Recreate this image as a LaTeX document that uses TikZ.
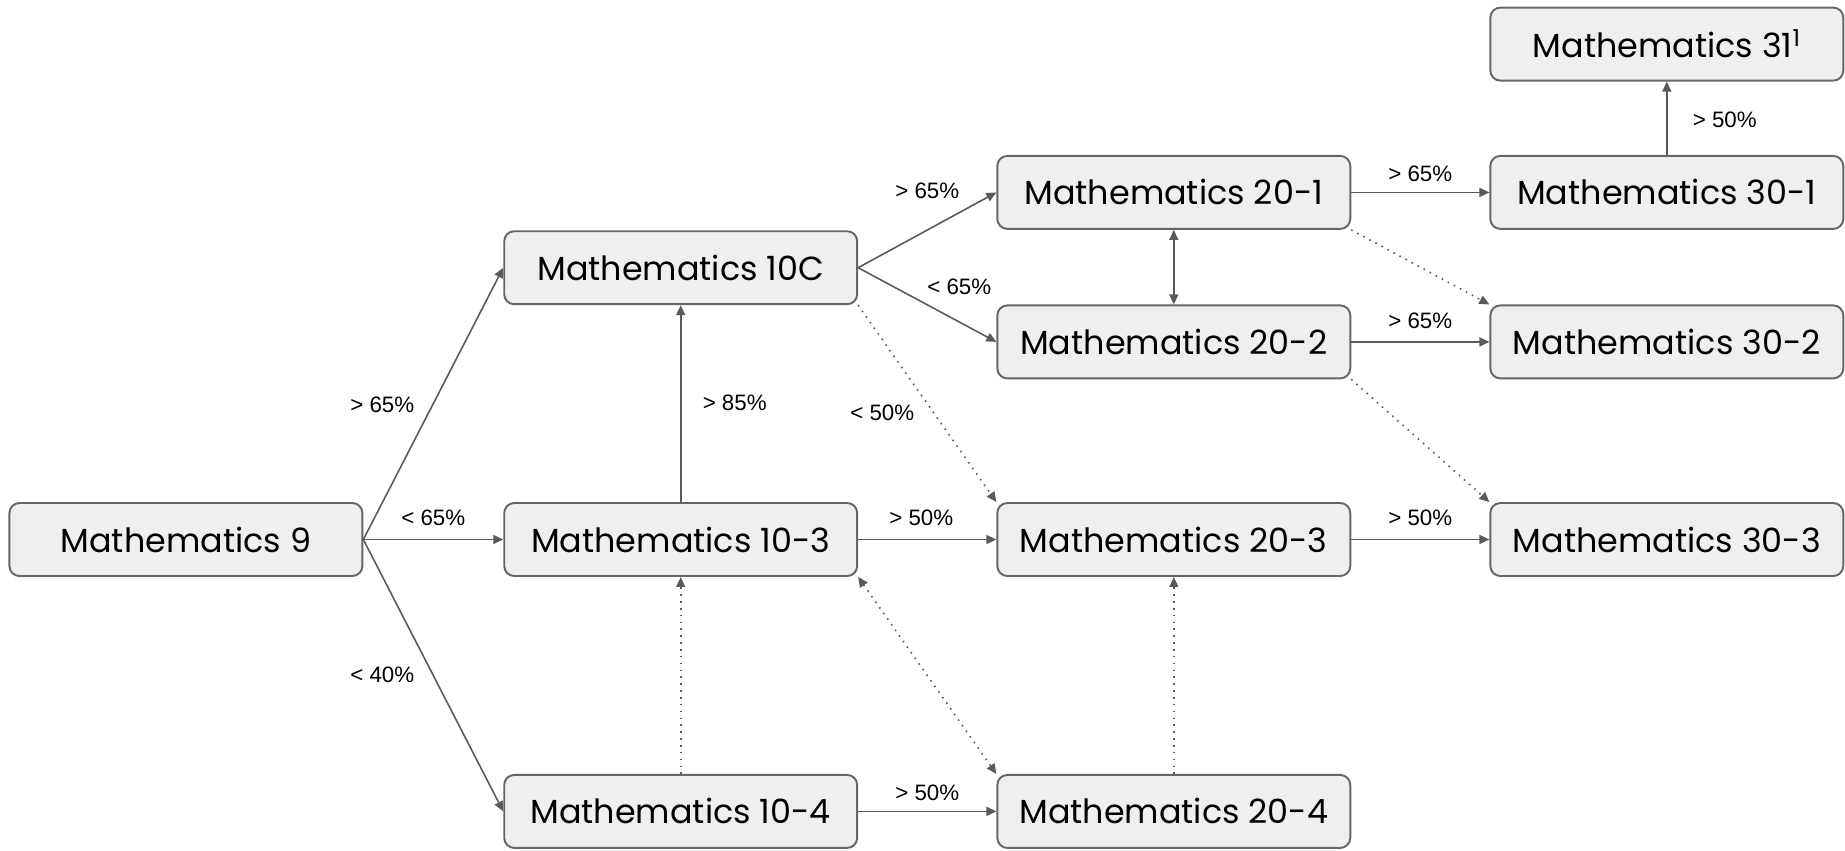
\documentclass[tikz,border=0pt]{standalone}
\usepackage{fontspec}
\setmainfont{Poppins}
\newfontfamily\lblfont{Liberation Sans}
\usetikzlibrary{arrows.meta, positioning}
\definecolor{boxfill}{HTML}{EFEFEF}
\definecolor{boxline}{HTML}{666666}
\definecolor{arrowgray}{HTML}{5A5A5A}

\begin{document}
\begin{tikzpicture}[x=0.02cm, y=-0.02cm,
  course/.style={draw=boxline, fill=boxfill, rounded corners=0.2cm, line width=1.1pt,
    minimum width=7.06cm, minimum height=1.46cm, inner sep=0pt,
    font=\fontsize{19}{22}\selectfont},
  arr/.style={draw=arrowgray, line width=0.9pt, -{Triangle[length=0.2cm, width=0.18cm]}},
  dotarr/.style={arr, dash pattern=on 0.9pt off 3pt},
  lbl/.style={font=\lblfont\fontsize{12.7}{14}\selectfont, inner sep=0pt}]
\useasboundingbox (0,0) rectangle (1845,850);

% Courses
\node[course] (m9)   at (185.9,539.5) {Mathematics 9};
\node[course] (m10c) at (680.7,267.7) {Mathematics 10C};
\node[course] (m103) at (680.7,539.5) {Mathematics 10-3};
\node[course] (m104) at (680.7,811.4) {Mathematics 10-4};
\node[course] (m201) at (1173.8,192.4) {Mathematics 20-1};
\node[course] (m202) at (1173.8,341.9) {Mathematics 20-2};
\node[course] (m203) at (1173.8,539.5) {Mathematics 20-3};
\node[course] (m204) at (1173.8,811.4) {Mathematics 20-4};
\node[course] (m301) at (1666.8,192.4) {Mathematics 30-1};
\node[course] (m302) at (1666.8,341.9) {Mathematics 30-2};
\node[course] (m303) at (1666.8,539.5) {Mathematics 30-3};
\node[course] (m31)  at (1666.8,44.1) {Mathematics 31\textsuperscript{1}};

% From Mathematics 9
\draw[arr] (m9.east) -- node[lbl, shift={(-51,1)}] {> 65\%} (m10c.west);
\draw[arr] (m9.east) -- node[lbl, shift={(0,-21.5)}] {< 65\%} (m103.west);
\draw[arr] (m9.east) -- node[lbl, shift={(-51,-1)}] {< 40\%} (m104.west);

% Grade 10
\draw[arr] (m103.north) -- node[lbl, shift={(54,-1)}] {> 85\%} (m10c.south);
\draw[dotarr] (m104.north) -- (m103.south);
\draw[arr] (m10c.east) -- node[lbl, shift={(0,-39)}] {> 65\%} (m201.west);
\draw[arr] (m10c.east) -- node[lbl, shift={(32,-18)}] {< 65\%} (m202.west);
\draw[dotarr] (m10c.south east) -- node[lbl, shift={(-45,9)}] {< 50\%} (m203.north west);
\draw[arr] (m103.east) -- node[lbl, shift={(-6,-21.5)}] {> 50\%} (m203.west);
\draw[dotarr, {Triangle[length=0.2cm, width=0.18cm]}-{Triangle[length=0.2cm, width=0.18cm]}] (m103.south east) -- (m204.north west);
\draw[arr] (m104.east) -- node[lbl, shift={(0,-19)}] {> 50\%} (m204.west);

% Grade 20
\draw[dotarr] (m204.north) -- (m203.south);
\draw[arr, {Triangle[length=0.2cm, width=0.18cm]}-{Triangle[length=0.2cm, width=0.18cm]}] (m201.south) -- (m202.north);
\draw[arr] (m201.east) -- node[lbl, shift={(0,-19)}] {> 65\%} (m301.west);
\draw[dotarr] (m201.south east) -- (m302.north west);
\draw[arr] (m202.east) -- node[lbl, shift={(0,-21)}] {> 65\%} (m302.west);
\draw[dotarr] (m202.south east) -- (m303.north west);
\draw[arr] (m203.east) -- node[lbl, shift={(0,-21.5)}] {> 50\%} (m303.west);

% Grade 30
\draw[arr] (m301.north) -- node[lbl, shift={(58,2)}] {> 50\%} (m31.south);
\end{tikzpicture}
\end{document}
